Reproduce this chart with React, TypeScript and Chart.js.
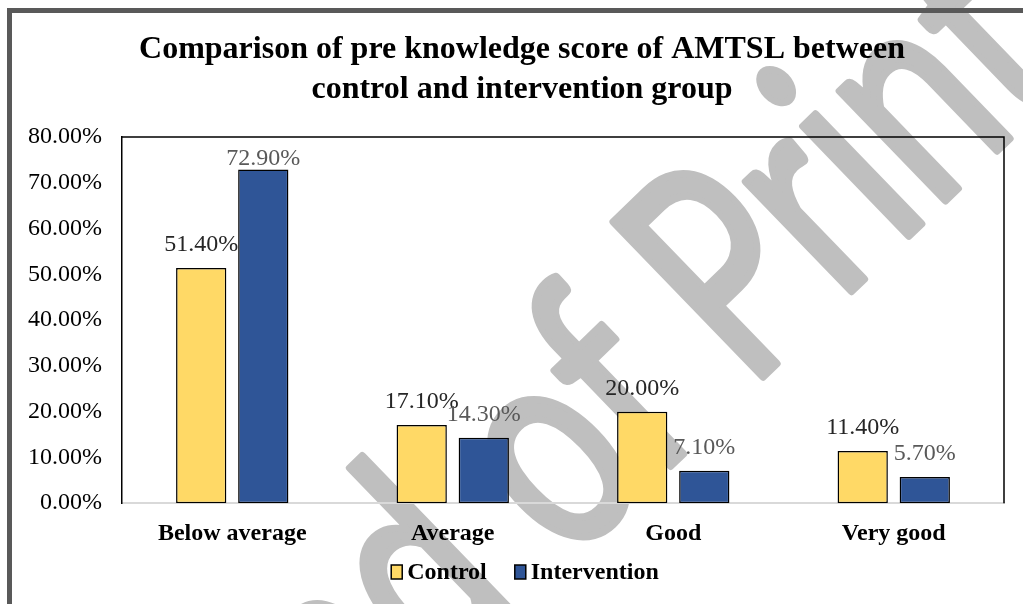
import React, { useEffect, useRef } from 'react';
import { Chart, registerables } from 'chart.js';

Chart.register(...registerables);

const categories = ['Below average', 'Average', 'Good', 'Very good'];
const controlValues = [51.4, 17.1, 20.0, 11.4];
const interventionValues = [72.9, 14.3, 7.1, 5.7];
const seriesLabels = ['Control', 'Intervention'];
const titleLines = ['Comparison of pre knowledge score of AMTSL between', 'control and intervention group'];
const yTickLabels = ['0.00%', '10.00%', '20.00%', '30.00%', '40.00%', '50.00%', '60.00%', '70.00%', '80.00%'];
const yMin = 0;
const yMax = 80;
const yStep = 10;
const watermarkBefore = 'Ahead of ';
const watermarkAfter = 'Print';

const SERIF = '"Liberation Serif", "Times New Roman", serif';
const WM_FONT = 'Lato, "Liberation Sans", sans-serif';
const COLORS = ['#FFD966', '#2F5597'];
const LABEL_COLORS = ['#262626', '#595959'];
const TITLE_CENTER = 522;

const backgroundPlugin = {
  id: 'background',
  afterLayout(chart: any) {
    const tb = chart.titleBlock;
    if (tb) {
      const half = Math.min(TITLE_CENTER - tb.left, tb.right - TITLE_CENTER);
      tb.left = TITLE_CENTER - half;
      tb.right = TITLE_CENTER + half;
      tb.width = tb.right - tb.left;
    }
  },
  beforeDraw(chart: any) {
    const { ctx, width, height } = chart;
    ctx.save();
    ctx.fillStyle = '#ffffff';
    ctx.fillRect(0, 0, width, height);
    // watermark (behind chart content)
    ctx.save();
    ctx.translate(748, 391);
    ctx.rotate((-44 * Math.PI) / 180);
    ctx.scale(0.72, 1);
    ctx.font = `300px ${WM_FONT}`;
    ctx.fillStyle = '#BFBFBF';
    ctx.strokeStyle = '#BFBFBF';
    ctx.lineWidth = 8;
    ctx.lineJoin = 'round';
    ctx.textBaseline = 'alphabetic';
    ctx.textAlign = 'right';
    ctx.fillText(watermarkBefore, 0, 0);
    ctx.strokeText(watermarkBefore, 0, 0);
    ctx.textAlign = 'left';
    ctx.fillText(watermarkAfter, 0, 0);
    ctx.strokeText(watermarkAfter, 0, 0);
    ctx.restore();
    // outer frame
    ctx.fillStyle = '#595959';
    ctx.fillRect(7, 8, width - 7, 5);
    ctx.fillRect(7, 8, 5, height - 8);
    ctx.restore();
  },
};

const plotBorderPlugin = {
  id: 'plotBorder',
  afterDatasetsDraw(chart: any) {
    const { ctx, chartArea } = chart;
    ctx.save();
    ctx.strokeStyle = '#000000';
    ctx.lineWidth = 1.5;
    ctx.beginPath();
    ctx.moveTo(chartArea.left, chartArea.top);
    ctx.lineTo(chartArea.right, chartArea.top);
    ctx.lineTo(chartArea.right, chartArea.bottom);
    ctx.stroke();
    ctx.restore();
  },
};

const valueLabelPlugin = {
  id: 'valueLabels',
  afterDatasetsDraw(chart: any) {
    const { ctx, chartArea } = chart;
    ctx.save();
    ctx.font = `24px ${SERIF}`;
    ctx.textAlign = 'center';
    ctx.textBaseline = 'middle';
    chart.data.datasets.forEach((ds: any, i: number) => {
      const meta = chart.getDatasetMeta(i);
      ctx.fillStyle = LABEL_COLORS[i];
      meta.data.forEach((bar: any, j: number) => {
        const v = ds.data[j] as number;
        const y = Math.max(bar.y - 23, chartArea.top + 22);
        ctx.fillText(v.toFixed(2) + '%', bar.x, y);
      });
    });
    ctx.restore();
  },
};

const legendPlugin = {
  id: 'customLegend',
  afterDraw(chart: any) {
    const { ctx } = chart;
    const cx = TITLE_CENTER + 3;
    const cy = 572;
    const boxW = 11;
    const boxH = 14;
    const gap = 5;
    const itemGap = 28;
    ctx.save();
    ctx.font = `bold 24px ${SERIF}`;
    const widths = chart.data.datasets.map((ds: any) => ctx.measureText(ds.label).width);
    const total = widths.reduce((a: number, w: number) => a + boxW + gap + w, 0) + itemGap * (widths.length - 1);
    let x = cx - total / 2;
    chart.data.datasets.forEach((ds: any, i: number) => {
      ctx.fillStyle = ds.backgroundColor;
      ctx.fillRect(x, cy - boxH / 2, boxW, boxH);
      ctx.strokeStyle = '#000000';
      ctx.lineWidth = 1.5;
      ctx.strokeRect(x, cy - boxH / 2, boxW, boxH);
      ctx.fillStyle = '#000000';
      ctx.textAlign = 'left';
      ctx.textBaseline = 'middle';
      ctx.fillText(ds.label, x + boxW + gap, cy + 1);
      x += boxW + gap + widths[i] + itemGap;
    });
    ctx.restore();
  },
};

export default function App() {
  const canvasRef = useRef<HTMLCanvasElement | null>(null);

  useEffect(() => {
    if (!canvasRef.current) return;
    const chart = new Chart(canvasRef.current, {
      type: 'bar',
      data: {
        labels: categories,
        datasets: [
          {
            label: seriesLabels[0],
            data: controlValues,
            backgroundColor: COLORS[0],
            borderColor: '#000000',
            borderWidth: 1.5,
            borderSkipped: false,
            categoryPercentage: 0.563,
            barPercentage: 0.81,
          },
          {
            label: seriesLabels[1],
            data: interventionValues,
            backgroundColor: COLORS[1],
            borderColor: '#000000',
            borderWidth: 1.5,
            borderSkipped: false,
            categoryPercentage: 0.563,
            barPercentage: 0.81,
          },
        ],
      },
      options: {
        animation: false,
        responsive: true,
        maintainAspectRatio: false,
        layout: { padding: { left: 8, right: 19, top: 0, bottom: 40 } },
        plugins: {
          legend: { display: false },
          tooltip: { enabled: false },
          title: {
            display: true,
            text: titleLines,
            color: '#000000',
            font: { family: SERIF, size: 32, weight: 'bold', lineHeight: 1.25 },
            padding: { top: 30, bottom: 27 },
          },
        },
        scales: {
          x: {
            grid: { display: false, drawTicks: false },
            border: { display: true, color: '#D9D9D9', width: 2 },
            ticks: {
              color: '#000000',
              font: { family: SERIF, size: 24, weight: 'bold' },
              padding: 16,
              maxRotation: 0,
            },
          },
          y: {
            min: yMin,
            max: yMax,
            grid: { display: false, drawTicks: false },
            border: { display: true, color: '#000000', width: 1.5 },
            afterTickToLabelConversion(scale: any) {
              scale.ticks.forEach((t: any, i: number) => {
                t.label = yTickLabels[i];
              });
            },
            ticks: {
              stepSize: yStep,
              color: '#000000',
              font: { family: SERIF, size: 24 },
              padding: 20,
            },
          },
        },
      },
      plugins: [backgroundPlugin, plotBorderPlugin, valueLabelPlugin, legendPlugin],
    });
    return () => chart.destroy();
  }, []);

  return (
    <div style={{ position: 'fixed', left: 0, top: 0, width: 1023, height: 604 }}>
      <canvas ref={canvasRef} />
    </div>
  );
}
